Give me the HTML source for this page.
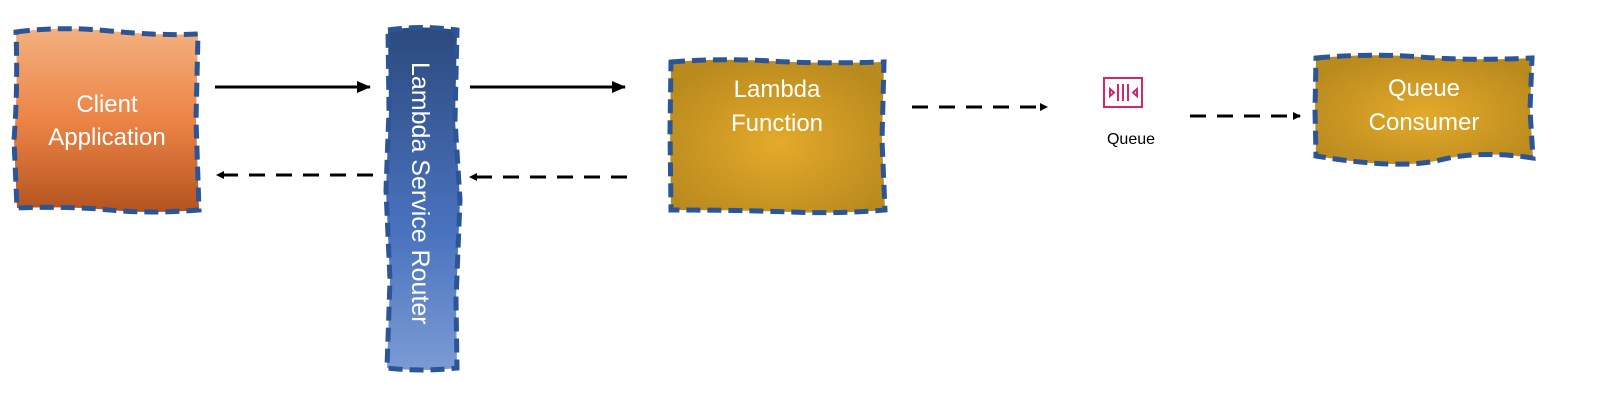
<!DOCTYPE html>
<html><head><meta charset="utf-8"><style>
html,body{margin:0;padding:0;background:#fff;width:1600px;height:415px;overflow:hidden}
svg{display:block}
text{font-family:"Liberation Sans",sans-serif}
</style></head><body>
<svg width="1600" height="415" viewBox="0 0 1600 415" xmlns="http://www.w3.org/2000/svg">
<defs>
<linearGradient id="og" x1="0" y1="0" x2="0" y2="1">
<stop offset="0" stop-color="#f3b07f"/><stop offset="0.5" stop-color="#ec8446"/><stop offset="1" stop-color="#b4531f"/></linearGradient>
<linearGradient id="bg" x1="0" y1="0" x2="0" y2="1">
<stop offset="0" stop-color="#2c4a7e"/><stop offset="0.6" stop-color="#4a73bf"/><stop offset="1" stop-color="#7b9bd3"/></linearGradient>
<radialGradient id="gg" cx="0.5" cy="0.55" r="0.6">
<stop offset="0" stop-color="#e4aa2a"/><stop offset="1" stop-color="#b98a1e"/></radialGradient>
<marker id="ah" markerWidth="8" markerHeight="8" refX="7" refY="4" orient="auto" markerUnits="userSpaceOnUse">
<path d="M0,0 L8,4 L0,8 z" fill="#000"/></marker>
<marker id="ahs" markerWidth="14" markerHeight="12" refX="13" refY="6" orient="auto" markerUnits="userSpaceOnUse">
<path d="M0,0 L14,6 L0,12 z" fill="#000"/></marker>
</defs>
<g stroke="#2b5597" stroke-width="5" stroke-dasharray="14,7">
<path d="M16,32 Q60,26 110,31 T198,34 L196,120 L199,210 Q150,214 110,210 T17,208 L14,140 Q18,90 16,32 z" fill="url(#og)"/>
<path d="M388,30 Q420,25 457,30 L455,120 L460,200 L456,300 L457,368 Q420,372 387,368 L390,280 L386,190 L389,110 z" fill="url(#bg)"/>
<path d="M671,62 Q720,58 770,61 T884,62 L882,140 L885,210 Q840,214 790,212 T671,210 L670,130 z" fill="url(#gg)"/>
<path d="M1316,58 Q1370,53 1420,57 T1532,58 L1530,110 L1533,158 Q1480,150 1440,160 T1316,156 L1315,110 z" fill="url(#gg)"/>
</g>
<g fill="#fff" font-size="24" text-anchor="middle">
<text x="107" y="112">Client</text><text x="107" y="145">Application</text>
<text x="777" y="97">Lambda</text><text x="777" y="131">Function</text>
<text x="1424" y="96">Queue</text><text x="1424" y="130">Consumer</text>
</g>
<text transform="translate(412,62) rotate(90)" font-size="25" fill="#fff" style="font-weight:500">Lambda Service Router</text>
<g stroke="#000" stroke-width="3" fill="none">
<line x1="215" y1="87" x2="370" y2="87" marker-end="url(#ahs)"/>
<line x1="470" y1="87" x2="625" y2="87" marker-end="url(#ahs)"/>
<line x1="373" y1="175" x2="217" y2="175" stroke-dasharray="16,11" marker-end="url(#ah)"/>
<line x1="627" y1="177" x2="470" y2="177" stroke-dasharray="16,11" marker-end="url(#ah)"/>
<line x1="912" y1="107" x2="1047" y2="107" stroke-dasharray="16,11" marker-end="url(#ah)"/>
<line x1="1190" y1="116" x2="1300" y2="116" stroke-dasharray="16,11" marker-end="url(#ah)"/>
</g>
<g stroke="#d6246e" stroke-width="2" fill="none">
<rect x="1104" y="78" width="38" height="29"/>
<line x1="1118" y1="84" x2="1118" y2="101"/><line x1="1123" y1="84" x2="1123" y2="101"/><line x1="1128" y1="84" x2="1128" y2="101"/>
<path d="M1110,89 L1114,92.5 L1110,96 z M1137,89 L1133,92.5 L1137,96 z"/>
</g>
<text x="1131" y="144" font-size="16" text-anchor="middle" fill="#000">Queue</text>
</svg>
</body></html>
